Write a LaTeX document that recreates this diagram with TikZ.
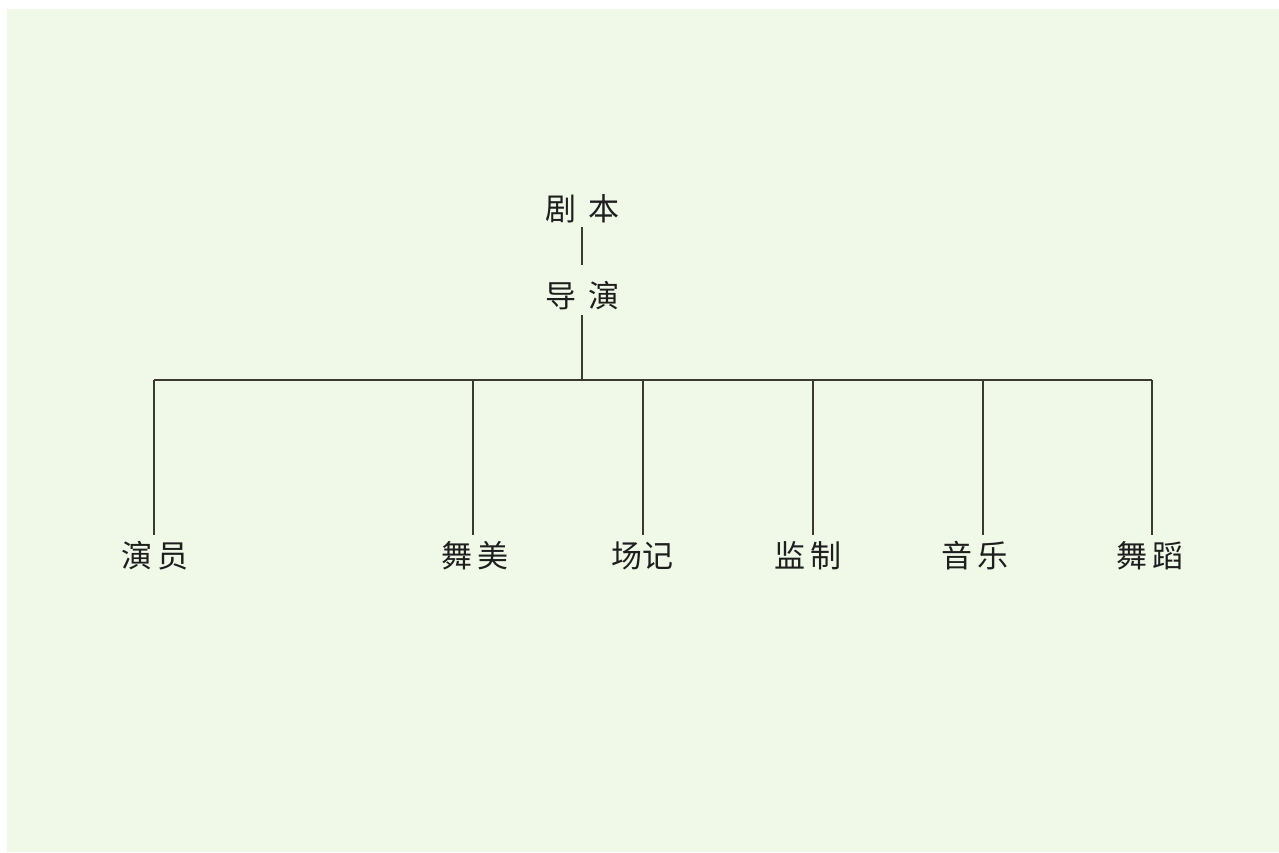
\documentclass[tikz,border=0pt]{standalone}
\usepackage{fontspec}
\newfontfamily\cjk{Noto Sans CJK SC}
\definecolor{bggreen}{HTML}{F0F9E8}
\definecolor{linecol}{HTML}{3A3A30}
\definecolor{txtcol}{HTML}{1E1E1E}
\begin{document}
\begin{tikzpicture}[x=1pt,y=-1pt,
  lbl/.style={inner sep=0pt,text=txtcol,font=\cjk\fontsize{31}{31}\selectfont},
  conn/.style={draw=linecol,line width=1.1pt}]
\useasboundingbox (0,0) rectangle (1279,852);
\fill[white] (0,0) rectangle (1279,852);
\fill[bggreen] (7,9) rectangle (1279,852);
% top nodes
\node[lbl] (script) at (582,209) {剧\hspace{12pt}本};
\node[lbl] (director) at (582,296) {导\hspace{12pt}演};
% junction
\coordinate (j) at (582,380);
\coordinate (bl) at (154,380);
\coordinate (br) at (1152,380);
% bottom nodes
\node[lbl] (actor) at (155,556) {演\hspace{5pt}员};
\node[lbl] (stage) at (475,556) {舞\hspace{5pt}美};
\node[lbl] (record) at (642,556) {场记};
\node[lbl] (super) at (808,556) {监\hspace{5pt}制};
\node[lbl] (music) at (975,556) {音\hspace{5pt}乐};
\node[lbl] (dance) at (1150,556) {舞\hspace{5pt}蹈};
% tops of drop lines
\coordinate (t1) at (154,380);
\coordinate (t2) at (473,380);
\coordinate (t3) at (643,380);
\coordinate (t4) at (813,380);
\coordinate (t5) at (983,380);
\coordinate (t6) at (1152,380);
\coordinate (b1) at (154,535);
\coordinate (b2) at (473,535);
\coordinate (b3) at (643,535);
\coordinate (b4) at (813,535);
\coordinate (b5) at (983,535);
\coordinate (b6) at (1152,535);
% connectors
\draw[conn] (script.south |- 0,227) -- (director.north |- 0,265);
\draw[conn] (director.south |- 0,315) -- (j);
\draw[conn] (bl) -- (br);
\draw[conn] (t1) -- (b1);
\draw[conn] (t2) -- (b2);
\draw[conn] (t3) -- (b3);
\draw[conn] (t4) -- (b4);
\draw[conn] (t5) -- (b5);
\draw[conn] (t6) -- (b6);
\end{tikzpicture}
\end{document}
